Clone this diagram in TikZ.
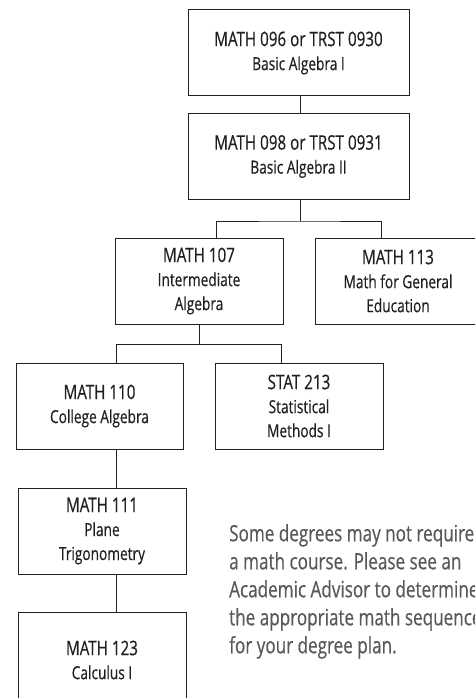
\documentclass[tikz,border=0pt]{standalone}
\usepackage{fontspec}
\setmainfont[FakeStretch=0.76, FakeBold=0.5]{Open Sans}
\usetikzlibrary{positioning}
\definecolor{inkblack}{HTML}{231F20}
\definecolor{notegray}{HTML}{58595B}
\newcommand{\course}[2]{{\fontsize{20}{24}\selectfont #1}\\#2}

\begin{document}
\begin{tikzpicture}[x=1pt, y=-1pt, font=\fontsize{18}{24}\selectfont,
    crs/.style={draw=inkblack, line width=1pt, text=inkblack, align=center,
        minimum width=168pt, minimum height=86pt, inner sep=0pt},
    link/.style={draw=inkblack, line width=1pt},
    note/.style={text=notegray, align=left, inner sep=0pt,
        font=\fontsize{22.5}{28}\selectfont}]
\clip (0,0) rectangle (475,698);
%
\node[crs, minimum width=221pt] (m096) at (298.5,53) {\course{MATH 096 or TRST 0930}{Basic Algebra I}};
\node[crs, minimum width=221pt] (m098) at (298.5,156.5) {\course{MATH 098 or TRST 0931}{Basic Algebra II}};
\draw[link] ([xshift=2pt]m096.south) -- ([xshift=2pt]m098.north);
%
\node[crs] (m107) at (199,281) {\course{MATH 107}{Intermediate\\Algebra}};
\node[crs, minimum width=166pt] (m113) at (398,281) {\course{MATH 113}{Math for General\\Education}};
\draw[link] ([xshift=2pt]m098.south) -- ++(0,21) coordinate (split1);
\draw[link] ([xshift=17pt]m107.north) |- (split1) -| ([xshift=-17pt]m113.north);
%
\node[crs, minimum width=167pt] (m110) at (99.5,406) {\course{MATH 110}{College Algebra}};
\node[crs] (s213) at (299,406) {\course{STAT 213}{Statistical\\Methods I}};
\draw[link] (m107.south) -- ++(0,20) coordinate (split2);
\draw[link] ([xshift=16.5pt]m110.north) |- (split2) -| ([xshift=-18pt]s213.north);
%
\node[crs] (m111) at (102,531) {\course{MATH 111}{Plane\\Trigonometry}};
\node[crs, minimum height=96pt] (m123) at (102,660) {\course{MATH 123}{Calculus I}};
\draw[link] ([xshift=16.5pt]m110.south) -- ([xshift=16.5pt]m110.south |- m111.north);
\draw[link] ([xshift=14pt]m111.south) -- ([xshift=14pt]m123.north);
%
\node[note, anchor=north west] (advice) at (229,524) {Some degrees may not require\\a math course. Please see an\\Academic Advisor to determine\\the appropriate math sequence\\for your degree plan.};
\end{tikzpicture}
\end{document}
